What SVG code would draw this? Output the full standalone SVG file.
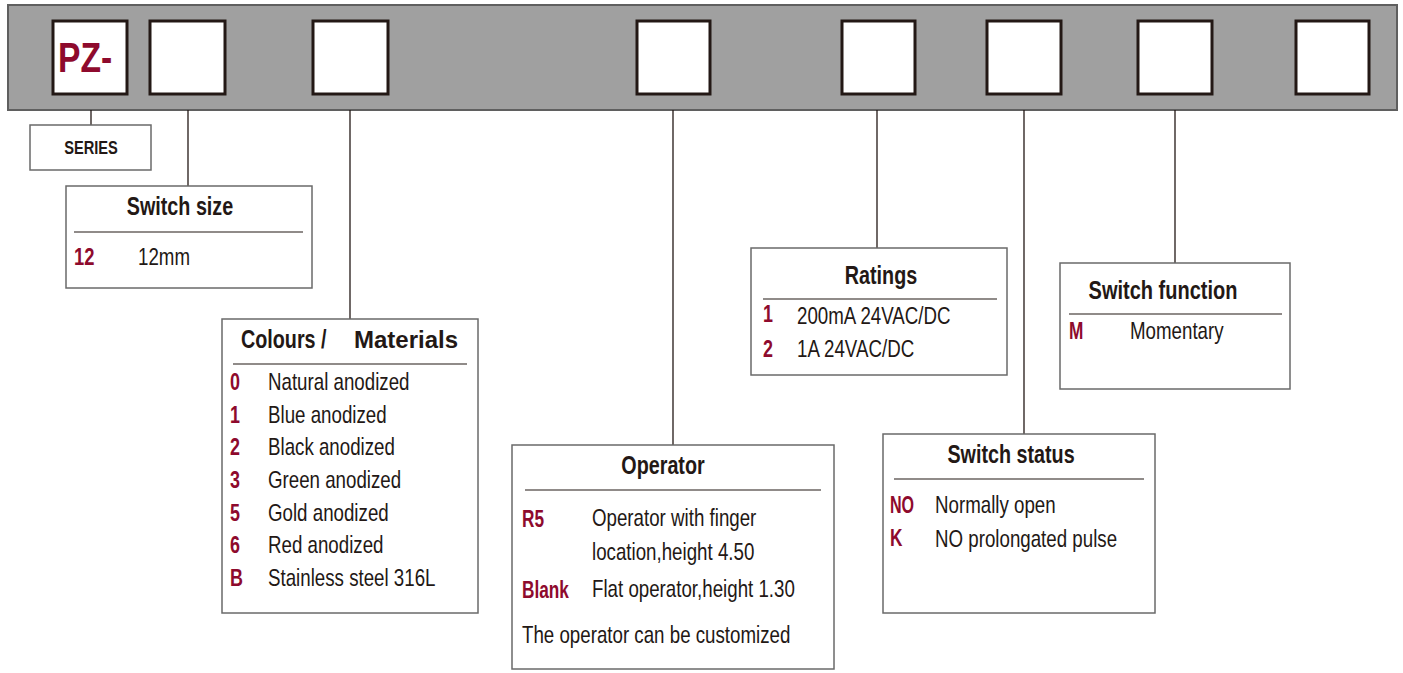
<svg xmlns="http://www.w3.org/2000/svg" width="1403" height="673" viewBox="0 0 1403 673">
<style>
.bg{fill:#ffffff}
.band{fill:#a0a0a0;stroke:#5f5f5f;stroke-width:2}
.slot{fill:#ffffff;stroke:#231815;stroke-width:3}
.box{fill:#ffffff;stroke:#6a6a6a;stroke-width:1.5}
.div{stroke:#231815;stroke-width:1.2}
.con line{stroke:#231815;stroke-width:1.3}
text{font-family:"Liberation Sans",Arial,sans-serif;fill:#231815}
.t{font-weight:bold;font-size:25px;text-anchor:middle}
.ts{font-weight:bold;font-size:25px}
.b{font-size:24px}
.c{font-weight:bold;font-size:23px;fill:#8e0a2d}
.pz{font-weight:bold;font-size:42px;fill:#8e0a2d}
.ser{font-weight:bold;font-size:19px;text-anchor:middle}
.mat{font-weight:bold;font-size:24px}
</style>
<rect class="bg" x="0" y="0" width="1403" height="673"/>
<g id="band">
<rect class="band" x="8" y="5" width="1389" height="105"/>
<rect class="slot" x="53" y="21" width="74" height="73"/>
<text class="pz" transform="translate(58,72) scale(0.8,1)">PZ-</text>
<rect class="slot" x="150" y="21" width="75" height="73"/>
<rect class="slot" x="313" y="21" width="75" height="73"/>
<rect class="slot" x="637" y="21" width="73" height="73"/>
<rect class="slot" x="842" y="21" width="73" height="73"/>
<rect class="slot" x="987" y="21" width="74" height="73"/>
<rect class="slot" x="1138" y="21" width="74" height="73"/>
<rect class="slot" x="1296" y="21" width="73" height="73"/>
</g>
<g id="connectors" class="con">
<line x1="91" y1="110" x2="91" y2="125"/>
<line x1="188" y1="110" x2="188" y2="186"/>
<line x1="350" y1="110" x2="350" y2="319"/>
<line x1="673" y1="110" x2="673" y2="445"/>
<line x1="877" y1="110" x2="877" y2="248"/>
<line x1="1024" y1="110" x2="1024" y2="434"/>
<line x1="1175" y1="110" x2="1175" y2="263"/>
</g>
<g id="series">
<rect class="box" x="30" y="125" width="121" height="45"/>
<text class="ser" transform="translate(91,154) scale(0.77,1)">SERIES</text>
</g>
<g id="switch-size">
<rect class="box" x="66" y="186" width="246" height="102"/>
<text class="t" transform="translate(180,215) scale(0.79,1)">Switch size</text>
<line class="div" x1="74" y1="232" x2="303" y2="232"/>
<text class="c" transform="translate(74,265) scale(0.8,1)">12</text>
<text class="b" transform="translate(138,265) scale(0.78,1)">12mm</text>
</g>
<g id="colours-materials">
<rect class="box" x="222" y="319" width="256" height="294"/>
<text class="ts" transform="translate(241,348) scale(0.79,1)">Colours /</text>
<text class="mat" x="354" y="348">Materials</text>
<line class="div" x1="233" y1="364" x2="467" y2="364"/>
<text class="c" transform="translate(230,390) scale(0.78,1)">0</text><text class="b" transform="translate(268,390) scale(0.78,1)">Natural anodized</text>
<text class="c" transform="translate(230,423) scale(0.78,1)">1</text><text class="b" transform="translate(268,423) scale(0.78,1)">Blue anodized</text>
<text class="c" transform="translate(230,455) scale(0.78,1)">2</text><text class="b" transform="translate(268,455) scale(0.78,1)">Black anodized</text>
<text class="c" transform="translate(230,488) scale(0.78,1)">3</text><text class="b" transform="translate(268,488) scale(0.78,1)">Green anodized</text>
<text class="c" transform="translate(230,521) scale(0.78,1)">5</text><text class="b" transform="translate(268,521) scale(0.78,1)">Gold anodized</text>
<text class="c" transform="translate(230,553) scale(0.78,1)">6</text><text class="b" transform="translate(268,553) scale(0.78,1)">Red anodized</text>
<text class="c" transform="translate(230,586) scale(0.78,1)">B</text><text class="b" transform="translate(268,586) scale(0.78,1)">Stainless steel 316L</text>
</g>
<g id="operator">
<rect class="box" x="512" y="445" width="322" height="224"/>
<text class="t" transform="translate(663,474) scale(0.79,1)">Operator</text>
<line class="div" x1="525" y1="490" x2="821" y2="490"/>
<text class="c" transform="translate(522,527) scale(0.75,1)">R5</text><text class="b" transform="translate(592,526) scale(0.78,1)">Operator with finger</text>
<text class="b" transform="translate(592,560) scale(0.78,1)">location,height 4.50</text>
<text class="c" transform="translate(522,598) scale(0.75,1)">Blank</text><text class="b" transform="translate(592,597) scale(0.78,1)">Flat operator,height 1.30</text>
<text class="b" transform="translate(522,643) scale(0.78,1)">The operator can be customized</text>
</g>
<g id="ratings">
<rect class="box" x="751" y="248" width="256" height="127"/>
<text class="t" transform="translate(881,284) scale(0.79,1)">Ratings</text>
<line class="div" x1="763" y1="299" x2="997" y2="299"/>
<text class="c" transform="translate(763,322) scale(0.78,1)">1</text><text class="b" transform="translate(797,324) scale(0.78,1)">200mA 24VAC/DC</text>
<text class="c" transform="translate(763,357) scale(0.78,1)">2</text><text class="b" transform="translate(797,357) scale(0.78,1)">1A 24VAC/DC</text>
</g>
<g id="switch-function">
<rect class="box" x="1060" y="263" width="230" height="126"/>
<text class="t" transform="translate(1163,299) scale(0.8,1)">Switch function</text>
<line class="div" x1="1069" y1="314" x2="1282" y2="314"/>
<text class="c" transform="translate(1069,339) scale(0.75,1)">M</text><text class="b" transform="translate(1130,339) scale(0.78,1)">Momentary</text>
</g>
<g id="switch-status">
<rect class="box" x="883" y="434" width="272" height="179"/>
<text class="t" transform="translate(1011,463) scale(0.79,1)">Switch status</text>
<line class="div" x1="894" y1="479" x2="1144" y2="479"/>
<text class="c" transform="translate(890,513) scale(0.7,1)">NO</text><text class="b" transform="translate(935,513) scale(0.78,1)">Normally open</text>
<text class="c" transform="translate(890,546) scale(0.75,1)">K</text><text class="b" transform="translate(935,547) scale(0.78,1)">NO prolongated pulse</text>
</g>
</svg>
